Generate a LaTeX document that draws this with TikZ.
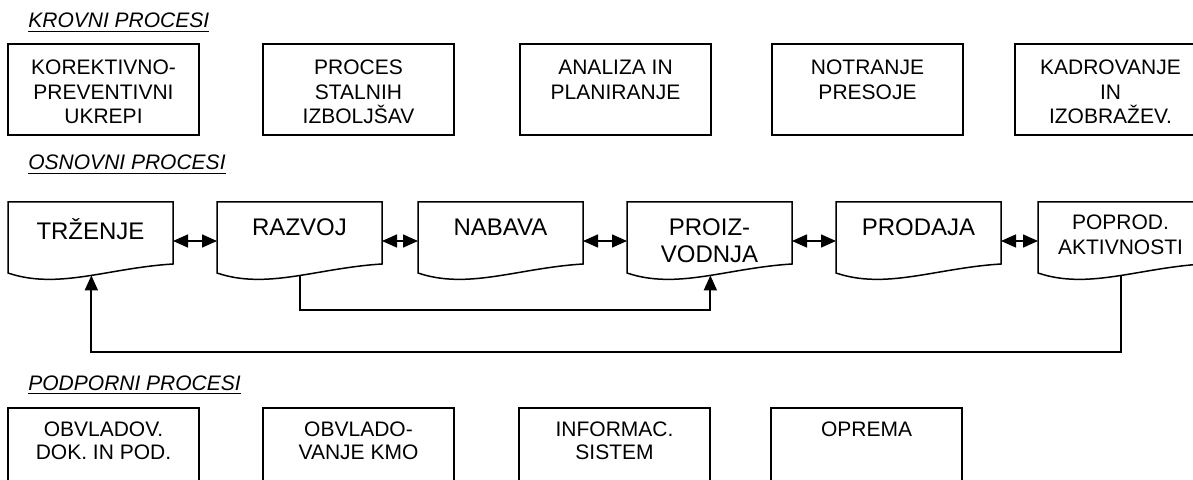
\documentclass[tikz,border=0pt]{standalone}
\usepackage{fontspec}
\setmainfont{Liberation Sans}
\usetikzlibrary{positioning, arrows.meta}

\begin{document}
\begin{tikzpicture}[
    x=0.5pt, y=-0.5pt,
    heading/.style={anchor=base west, inner sep=0pt, font=\fontsize{10.5}{12}\selectfont\itshape},
    box/.style={rectangle, draw, line width=0.75pt, inner sep=0pt, outer sep=0pt, minimum width=95.5pt, minimum height=45.5pt, font=\fontsize{10.5}{12.3}\selectfont,
        execute at begin node={\begin{minipage}[t][45.5pt][t]{95.5pt}\centering\vspace{#1}},
        execute at end node={\end{minipage}}},
    box/.default=8pt,
    lowbox/.style={box=7pt, font=\fontsize{10.5}{11.5}\selectfont},
    docbox/.style={rectangle, inner sep=0pt, outer sep=0pt, minimum width=82.5pt, minimum height=31pt, font=\fontsize{12}{13.5}\selectfont,
        execute at begin node={\begin{minipage}[t][31pt][t]{82.5pt}\centering\vspace{#1}},
        execute at end node={\end{minipage}}},
    docbox/.default=8.5pt,
    docline/.style={line width=0.75pt, line join=miter},
    link/.style={-{Triangle[length=7.5pt, width=6.5pt]}, line width=0.9pt},
    both/.style={{Triangle[length=7.5pt, width=6.5pt]}-{Triangle[length=7.5pt, width=6.5pt]}, line width=0.75pt},
]
\clip (0,0) rectangle (1193,480);

% Section headings
\node[heading] (krovni) at (28,28) {\underline{KROVNI PROCESI}};
\node[heading] (osnovni) at (28,170) {\underline{OSNOVNI PROCESI}};
\node[heading] (podporni) at (28,390) {\underline{PODPORNI PROCESI}};

% Top row
\node[box] (kor) at (103.5,89.5) {KOREKTIVNO-\\PREVENTIVNI\\UKREPI};
\node[box, right=32pt of kor] (izb) {PROCES\\STALNIH\\IZBOLJŠAV};
\node[box, right=33pt of izb] (ana) {ANALIZA IN\\PLANIRANJE};
\node[box, right=30.5pt of ana] (pres) {NOTRANJE\\PRESOJE};
\node[box, right=26pt of pres] (kad) {KADROVANJE\\IN\\IZOBRAŽEV.};

% Main process chain
\node[docbox] (trz) at (90.5,233) {TRŽENJE};
\node[docbox, right=22pt of trz] (raz) {RAZVOJ};
\node[docbox, right=18pt of raz] (nab) {NABAVA};
\node[docbox, right=22pt of nab] (pro) {PROIZ-\\VODNJA};
\node[docbox, right=22pt of pro] (prd) {PRODAJA};
\node[docbox=6.5pt, right=18.5pt of prd, font=\fontsize{10.5}{12.5}\selectfont] (pop) {POPROD.\\AKTIVNOSTI};

% Document outlines with wavy bottom
\foreach \n in {trz, raz, nab, pro, prd, pop}
    \draw[docline] ([yshift=-4.5pt]\n.south west) -- (\n.north west) -- (\n.north east) -- (\n.south east)
        .. controls +(-32.5pt,-2pt) and +(25pt,-8.5pt) .. ([yshift=-4.5pt]\n.south west) coordinate[pos=0.46] (\n-w) -- cycle;

% Chain arrows
\foreach \a/\b in {trz/raz, raz/nab, nab/pro, pro/prd, prd/pop}
    \draw[both] ([yshift=-4pt]\a.east) -- ([yshift=-4pt]\b.west);

% Feedback lines
\draw[link] (raz-w) -- ++(0pt,-17.5pt) -| (pro-w);
\draw[link] (pop-w) -- ++(0pt,-38.5pt) -| (trz-w);

% Bottom row
\node[lowbox] (obd) at (103.5,453.5) {OBVLADOV.\\DOK. IN POD.};
\node[lowbox, right=32pt of obd] (kmo) {OBVLADO-\\VANJE KMO};
\node[lowbox, right=32.5pt of kmo] (inf) {INFORMAC.\\SISTEM};
\node[lowbox, right=30.5pt of inf] (opr) {OPREMA};

\end{tikzpicture}
\end{document}
